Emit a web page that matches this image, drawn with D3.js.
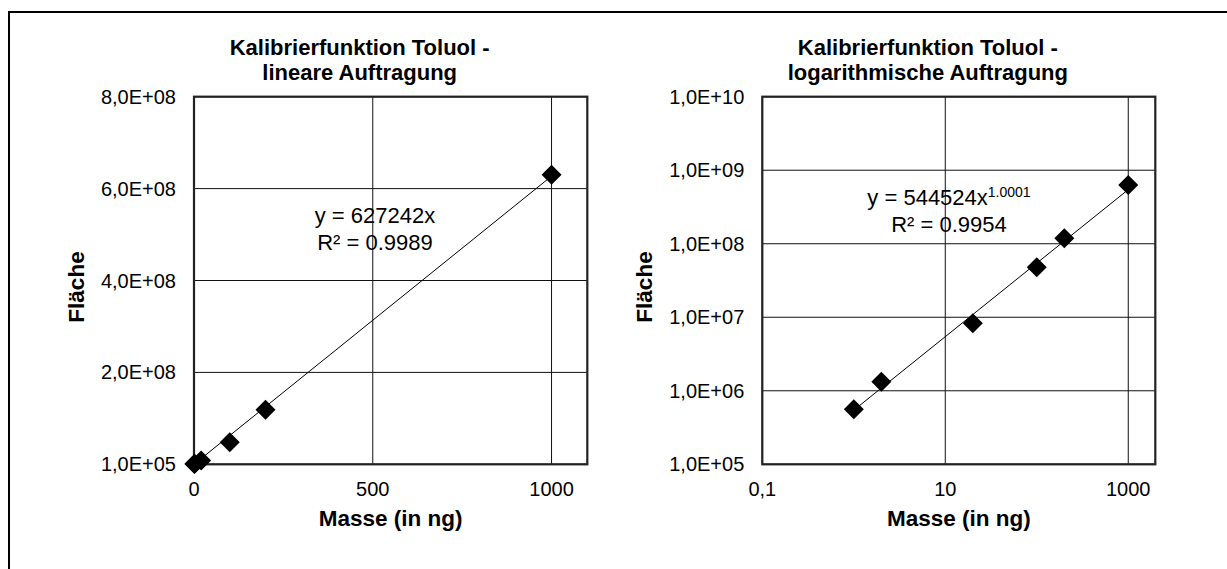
<!DOCTYPE html>
<html lang="de">
<head>
<meta charset="utf-8">
<title>Kalibrierfunktion Toluol</title>
<script src="https://d3js.org/d3.v7.min.js"></script>
<style>
  body { margin: 0; background: #fff; }
  svg text { font-family: "Liberation Sans", Arial, sans-serif; fill: #000; }
</style>
</head>
<body>
<svg id="chart" width="1227" height="569"></svg>
<script>
// measured values (Masse in ng, Fläche)
var masse   = [1, 2, 20, 100, 200, 1000];
var flaeche = [5.6e5, 1.33e6, 8.3e6, 4.8e7, 1.19e8, 6.3e8];

// trend line coefficients as shown in the chart labels
var linSlope = 627242;
var powA = 544524, powB = 1.0001;

// tick values
var linXTicks = [0, 500, 1000];
var linYTicks = [1e5, 2.001e8, 4.001e8, 6.001e8, 8.001e8];
var logXTicks = [0.1, 10, 1000];
var logXLabels = ["0,1", "10", "1000"];
var logYTicks = [1e5, 1e6, 1e7, 1e8, 1e9, 1e10];

var titles = [
  ["Kalibrierfunktion Toluol -", "lineare Auftragung"],
  ["Kalibrierfunktion Toluol -", "logarithmische Auftragung"]
];

var svg = d3.select("#chart");

// outer frame (runs off the right and bottom edge)
svg.append("rect")
  .attr("x", 9).attr("y", 12)
  .attr("width", 1400).attr("height", 700)
  .attr("fill", "none").attr("stroke", "#000").attr("stroke-width", 2);

// 2.001E+08 -> "2,0E+08"
function sci(v) {
  var s = v.toExponential(1).split("e");
  var e = parseInt(s[1], 10);
  var es = (e < 0 ? "-" : "+") + (Math.abs(e) < 10 ? "0" : "") + Math.abs(e);
  return s[0].replace(".", ",") + "E" + es;
}

function panel(o) {
  var g = svg.append("g");
  var x = o.x, y = o.y;
  var r = x.range(), t = y.range();

  // grid
  g.selectAll(".gx").data(o.xTicks).enter().append("line")
    .attr("x1", function(d){ return x(d); }).attr("x2", function(d){ return x(d); })
    .attr("y1", t[1]).attr("y2", t[0])
    .attr("stroke", "#111").attr("stroke-width", 1);
  g.selectAll(".gy").data(o.yTicks).enter().append("line")
    .attr("x1", r[0]).attr("x2", r[1])
    .attr("y1", function(d){ return y(d); }).attr("y2", function(d){ return y(d); })
    .attr("stroke", "#111").attr("stroke-width", 1);

  // plot border
  g.append("rect")
    .attr("x", r[0]).attr("y", t[1])
    .attr("width", r[1] - r[0]).attr("height", t[0] - t[1])
    .attr("fill", "none").attr("stroke", "#222").attr("stroke-width", 2.2);

  // tick labels
  g.selectAll(".ly").data(o.yTicks).enter().append("text")
    .attr("x", r[0] - 18).attr("y", function(d){ return y(d) + 7; })
    .attr("text-anchor", "end").attr("font-size", 20)
    .text(sci);
  g.selectAll(".lx").data(o.xTicks).enter().append("text")
    .attr("x", function(d){ return x(d); }).attr("y", t[0] + 32)
    .attr("text-anchor", "middle").attr("font-size", 20)
    .text(function(d, i){ return o.xLabels[i]; });

  // titles
  var cx = (r[0] + r[1]) / 2;
  g.selectAll(".tt").data(o.title).enter().append("text")
    .attr("x", cx - 31).attr("y", function(d, i){ return 55 + i * 25; })
    .attr("text-anchor", "middle").attr("font-size", 22).attr("font-weight", "bold")
    .text(function(d){ return d; });
  g.append("text")
    .attr("x", cx).attr("y", t[0] + 62)
    .attr("text-anchor", "middle").attr("font-size", 22.5).attr("font-weight", "bold")
    .text("Masse (in ng)");
  g.append("text")
    .attr("transform", "translate(" + (r[0] - 110) + ",287) rotate(-90)")
    .attr("text-anchor", "middle").attr("font-size", 22.5).attr("font-weight", "bold")
    .text("Fläche");

  // trend line
  g.append("path")
    .datum(o.trendX)
    .attr("d", d3.line().x(function(d){ return x(d); }).y(function(d){ return y(o.trend(d)); }))
    .attr("fill", "none").attr("stroke", "#000").attr("stroke-width", 1);

  // markers
  var sym = d3.symbol(d3.symbolSquare, 200);
  g.selectAll(".pt").data(masse).enter().append("path")
    .attr("d", sym)
    .attr("transform", function(d, i){
      return "translate(" + x(d) + "," + y(flaeche[i]) + ") rotate(45)";
    })
    .attr("fill", "#000");

  // equation label
  var eq = g.append("text")
    .attr("x", o.eqX).attr("y", o.eqY)
    .attr("text-anchor", "middle").attr("font-size", 22);
  eq.append("tspan").text(o.eq[0]);
  if (o.eqSup) eq.append("tspan").attr("dy", -8).attr("font-size", 14).text(o.eqSup);
  g.append("text")
    .attr("x", o.eqX).attr("y", o.eqY + 27)
    .attr("text-anchor", "middle").attr("font-size", 22)
    .text(o.eq[1]);
}

panel({
  x: d3.scaleLinear().domain([0, 1100]).range([194, 587.3]),
  y: d3.scaleLinear().domain([1e5, 8.001e8]).range([464.3, 96.7]),
  xTicks: linXTicks, xLabels: linXTicks.map(String),
  yTicks: linYTicks,
  title: titles[0],
  trendX: [0, 1000],
  trend: function(m){ return m * linSlope; },
  eq: ["y = " + linSlope + "x", "R² = 0.9989"],
  eqX: 375, eqY: 223
});

panel({
  x: d3.scaleLog().domain([0.1, 1975]).range([762.3, 1155.3]),
  y: d3.scaleLog().domain([1e5, 1e10]).range([464.3, 96.7]),
  xTicks: logXTicks, xLabels: logXLabels,
  yTicks: logYTicks,
  title: titles[1],
  trendX: [1, 1000],
  trend: function(m){ return powA * Math.pow(m, powB); },
  eq: ["y = " + powA + "x", "R² = 0.9954"],
  eqSup: "1.0001",
  eqX: 949, eqY: 205
});
</script>
</body>
</html>
